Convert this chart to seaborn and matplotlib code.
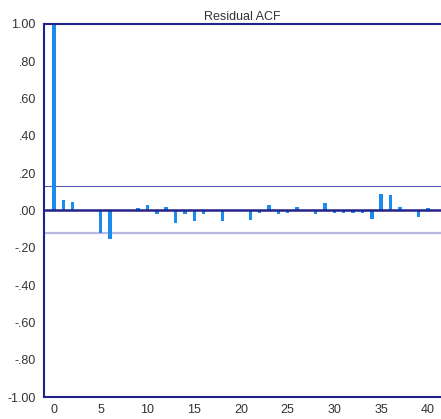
import numpy as np
import pandas as pd
import matplotlib
matplotlib.use("Agg")
import matplotlib.pyplot as plt
import seaborn as sns

# Data
lags = list(range(0, 41))
acf_values = [1.00, 0.057, 0.043, 0.004, -0.004, -0.121, -0.153, 0.004, -0.004, 0.011,
              0.027, -0.019, 0.018, -0.068, -0.019, -0.059, -0.020, 0.004, -0.059, 0.004,
              -0.004, -0.053, -0.011, 0.027, -0.019, -0.011, 0.018, 0.004, -0.019, 0.041,
              -0.011, -0.011, -0.011, -0.011, -0.043, 0.089, 0.082, 0.018, 0.004, -0.035,
              0.011]
band_upper = 0.13
band_lower = -0.12
y_ticks = [1.0, 0.8, 0.6, 0.4, 0.2, 0.0, -0.2, -0.4, -0.6, -0.8, -1.0]
y_tick_labels = ["1.00", ".80", ".60", ".40", ".20", ".00", "-.20", "-.40", "-.60", "-.80", "-1.00"]
x_ticks = [0, 5, 10, 15, 20, 25, 30, 35, 40]
title = "Residual ACF"

df = pd.DataFrame({"lag": lags, "acf": acf_values})

sns.set_style("white")
plt.rcParams['font.family'] = ['Liberation Sans', 'DejaVu Sans']

navy = "#22228a"
bar_color = "#1a8cf0"
text_color = "#333333"

fig = plt.figure(figsize=(4.41, 4.19), dpi=100)
ax = fig.add_axes([0.1, 0.0525, 0.9, 0.8903])

sns.barplot(data=df, x="lag", y="acf", native_scale=True, width=0.36,
            color=bar_color, saturation=1, edgecolor="none", ax=ax, zorder=2)
ax.axhline(0, color=navy, lw=1.8, zorder=3)
ax.axhline(band_upper, color="#5a5ab0", lw=0.8, zorder=1)
ax.axhline(band_lower, color="#b8b8e0", lw=1.6, zorder=1)

ax.set_xlim(-1.06, 41.4)
ax.set_ylim(-1.0, 1.0)
ax.set_yticks(y_ticks)
ax.set_yticklabels(y_tick_labels)
ax.set_xticks(x_ticks)
ax.set_xticklabels([str(t) for t in x_ticks])

for s in ["left", "top", "bottom"]:
    ax.spines[s].set_color(navy)
    ax.spines[s].set_linewidth(1.5)
ax.spines["right"].set_visible(False)

ax.tick_params(axis="both", direction="out", length=3, width=1.2, color=navy,
               labelsize=9, labelcolor=text_color, pad=2,
               right=False, top=False)
ax.tick_params(axis="y", pad=3)
ax.set_title(title, fontsize=9, color=text_color, pad=3)
ax.set_xlabel("")
ax.set_ylabel("")

fig.savefig("out.png", dpi=100)
